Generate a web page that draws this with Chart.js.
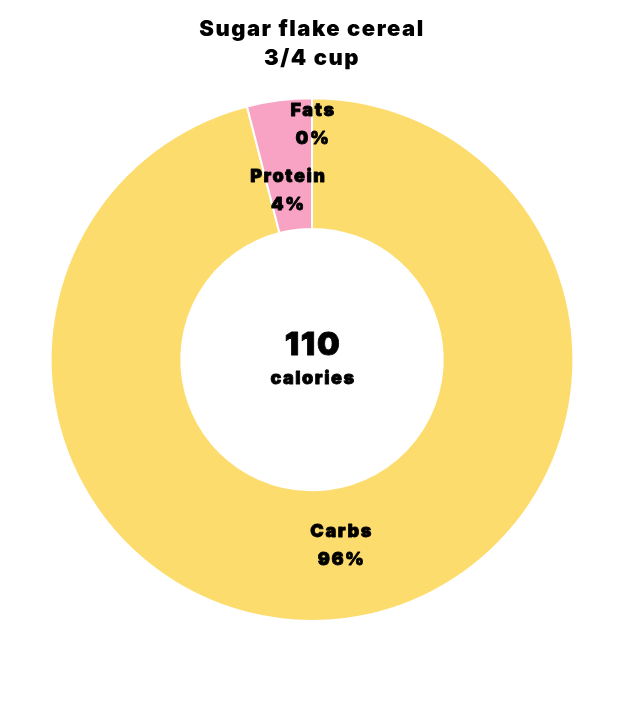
<!DOCTYPE html>
<html>
<head>
<meta charset="utf-8">
<script src="https://cdn.jsdelivr.net/npm/chart.js@4/dist/chart.umd.min.js"></script>
<style>
  html, body { margin: 0; padding: 0; background: #fff; }
  #wrap { width: 624px; height: 720px; }
</style>
</head>
<body>
<div id="wrap"><canvas id="c" width="624" height="720"></canvas></div>
<script>
const categories = ["Carbs", "Protein", "Fats"];
const percentages = [96, 4, 0];
const colors = ["#FDDC6E", "#F9A3C4", "#F5C04A"];
const titleLines = ["Sugar flake cereal", "3/4 cup"];
const centerValue = "110";
const centerUnit = "calories";

const FONT = "Inter, 'Noto Sans', sans-serif";

const spacingPlugin = {
  id: 'spacing',
  beforeDraw(chart) { chart.ctx.letterSpacing = '1.5px'; }
};

function heavyText(ctx, txt, x, y) {
  ctx.fillText(txt, x, y);
  ctx.strokeText(txt, x, y);
}

const labelPlugin = {
  id: 'sliceLabels',
  afterDatasetsDraw(chart) {
    const ctx = chart.ctx;
    const meta = chart.getDatasetMeta(0);
    const tweak = [[5, -9], [1, 25], [1, -39]];
    ctx.save();
    ctx.fillStyle = '#000';
    ctx.strokeStyle = '#000';
    ctx.lineWidth = 0.8;
    ctx.lineJoin = 'round';
    ctx.textAlign = 'center';
    ctx.textBaseline = 'middle';
    ctx.letterSpacing = '1.6px';
    ctx.font = "900 18px " + FONT;
    meta.data.forEach((arc, i) => {
      const p = arc.getCenterPoint();
      const x = p.x + tweak[i][0];
      const y = p.y + tweak[i][1];
      heavyText(ctx, categories[i], x, y - 14);
      heavyText(ctx, percentages[i] + '%', x, y + 14);
    });
    const a = meta.data[0];
    ctx.letterSpacing = '1.6px';
    ctx.font = "900 32px " + FONT;
    heavyText(ctx, centerValue, a.x + 1, a.y - 14);
    ctx.letterSpacing = '1.5px';
    ctx.font = "900 18px " + FONT;
    heavyText(ctx, centerUnit, a.x + 1, a.y + 19);
    ctx.restore();
  }
};

new Chart(document.getElementById('c'), {
  type: 'doughnut',
  data: {
    labels: categories,
    datasets: [{
      data: percentages,
      backgroundColor: colors,
      borderColor: '#fff',
      borderWidth: 2
    }]
  },
  options: {
    responsive: false,
    animation: false,
    cutout: '50%',
    layout: { padding: { top: 0, bottom: 98, left: 0, right: 0 } },
    plugins: {
      legend: { display: false },
      tooltip: { enabled: false },
      title: {
        display: true,
        text: titleLines,
        color: '#000',
        font: { family: FONT, size: 22, weight: '900', lineHeight: 1.3 },
        padding: { top: 15, bottom: 25 }
      }
    }
  },
  plugins: [spacingPlugin, labelPlugin]
});
</script>
</body>
</html>
